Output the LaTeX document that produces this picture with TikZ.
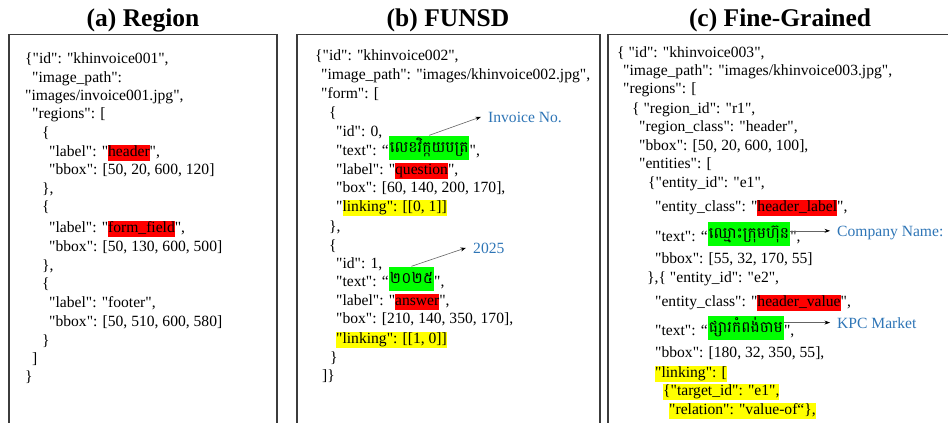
\documentclass[tikz,border=0pt]{standalone}
\usepackage{fontspec}
\setmainfont[Ligatures=TeXOff]{Liberation Serif}
\newfontfamily\khmer[Script=Khmer]{Battambang}
\usetikzlibrary{arrows.meta}

\definecolor{hlred}{RGB}{255,0,0}
\definecolor{hlgreen}{RGB}{0,255,0}
\definecolor{hlyellow}{RGB}{255,255,0}
\definecolor{noteblue}{RGB}{46,117,182}
\definecolor{framegray}{RGB}{60,60,60}
\definecolor{ptrgray}{RGB}{100,100,100}

% inline highlight behind a piece of JSON text
\newcommand\hlbox[2]{{\setlength\fboxsep{0pt}\colorbox{#1}{\rule[-4.5pt]{0pt}{16pt}#2}}}
\newcommand\hlr[1]{\hlbox{hlred}{#1}}
\newcommand\hly[1]{\hlbox{hlyellow}{#1}}
\newcommand\jsonsize{\fontsize{15.6}{18.7}\selectfont}
\newcommand\titlesize{\fontsize{25.5}{30}\selectfont}
\newcommand\khsize{\fontsize{15.5}{19}\selectfont}
% Khmer words sit a little above the JSON baseline
\newcommand\kw[1]{\raisebox{2.5pt}{#1}}

\begin{document}
\begin{tikzpicture}[x=1pt,y=-1pt,
  jl/.style={anchor=base west, inner sep=0pt, font=\jsonsize},
  ttl/.style={anchor=base, inner sep=0pt, font=\titlesize\bfseries},
  kh/.style={anchor=base west, inner xsep=0.8pt, inner ysep=0pt, fill=hlgreen,
             text height=19.5pt, text depth=4.5pt, font=\khmer\khsize},
  note/.style={anchor=base west, inner xsep=7pt, inner ysep=0pt, text depth=0pt,
               text=noteblue, font=\jsonsize},
  ptr/.style={draw=ptrgray, line width=0.6pt, -{Stealth[length=5.5pt,width=4pt,color=black]}},
  frm/.style={draw=framegray, line width=1.2pt}]

\useasboundingbox (0,0) rectangle (948,423);

% panel titles
\node[ttl] (ta) at (143,26) {(a) Region};
\node[ttl] (tb) at (448,26) {(b) FUNSD};
\node[ttl] (tc) at (780,26) {(c) Fine-Grained};

% open-bottom frames
\draw[frm] (9,430) -- (9,34.5) -- (277,34.5) -- (277,430);
\draw[frm] (297,430) -- (297,34.5) -- (600,34.5) -- (600,430);
\draw[frm] (608,430) -- (608,34.5) -- (960,34.5);

% ---------- (a) Region ----------
\node[jl] (a1)  at (25,63)  {\{"id": "khinvoice001",};
\node[jl] (a2)  at (32,82)  {"image\_path":};
\node[jl] (a3)  at (25,100) {"images/invoice001.jpg",};
\node[jl] (a4)  at (32,118) {"regions": [};
\node[jl] (a5)  at (42,137) {\{};
\node[jl] (a6)  at (49,156) {"label": "\hlr{header}",};
\node[jl] (a7)  at (49,174) {"bbox": [50, 20, 600, 120]};
\node[jl] (a8)  at (42,193) {\},};
\node[jl] (a9)  at (42,211) {\{};
\node[jl] (a10) at (49,232) {"label": "\hlr{form\_field}",};
\node[jl] (a11) at (49,251) {"bbox": [50, 130, 600, 500]};
\node[jl] (a12) at (42,270) {\},};
\node[jl] (a13) at (42,288) {\{};
\node[jl] (a14) at (49,307) {"label": "footer",};
\node[jl] (a15) at (49,326) {"bbox": [50, 510, 600, 580]};
\node[jl] (a16) at (42,345) {\}};
\node[jl] (a17) at (32,363) {]};
\node[jl] (a18) at (25,381) {\}};

% ---------- (b) FUNSD ----------
\node[jl] (b1)  at (315,60)  {\{"id": "khinvoice002",};
\node[jl] (b2)  at (321,79)  {"image\_path": "images/khinvoice002.jpg",};
\node[jl] (b3)  at (321,98)  {"form": [};
\node[jl] (b4)  at (329,117) {\{};
\node[jl] (b5)  at (336,136) {"id": 0,};
\node[jl] (b6)  at (336,155) {"text": “};
\node[kh] (gb6) at (b6.base east) {\kw{លេខវិក្កយបត្រ}};
\node[jl] (b6e) at (gb6.base east) {",};
\node[jl] (b7)  at (336,174) {"label": "\hlr{question}",};
\node[jl] (b8)  at (336,192) {"box": [60, 140, 200, 170],};
\node[jl] (b9)  at (336,211) {"\hly{linking": [[0, 1]]}};
\node[jl] (b10) at (329,231) {\},};
\node[jl] (b11) at (329,250) {\{};
\node[jl] (b12) at (336,268) {"id": 1,};
\node[jl] (b13) at (336,286) {"text": “};
\node[kh] (gb13) at (b13.base east) {\kw{២០២៥}};
\node[jl] (b13e) at (gb13.base east) {",};
\node[jl] (b14) at (336,305) {"label": "\hlr{answer}",};
\node[jl] (b15) at (336,323) {"box": [210, 140, 350, 170],};
\node[jl] (b16) at (336,343) {\hly{"linking": [[1, 0]]}};
\node[jl] (b17) at (330,362) {\}};
\node[jl] (b18) at (322,380) {]\}};

\node[note] (inv) at (481,122) {Invoice No.};
\node[note] (yr)  at (466,253) {2025};
\draw[ptr] (gb6.north) -- (inv.west);
\draw[ptr] (gb13.north) -- (yr.west);

% ---------- (c) Fine-Grained ----------
\node[jl] (c1)  at (617,57)  {\{ "id": "khinvoice003",};
\node[jl] (c2)  at (623,75)  {"image\_path": "images/khinvoice003.jpg",};
\node[jl] (c3)  at (623,93)  {"regions": [};
\node[jl] (c4)  at (632,113) {\{ "region\_id": "r1",};
\node[jl] (c5)  at (639,131) {"region\_class": "header",};
\node[jl] (c6)  at (639,150) {"bbox": [50, 20, 600, 100],};
\node[jl] (c7)  at (639,168) {"entities": [};
\node[jl] (c8)  at (648,187) {\{"entity\_id": "e1",};
\node[jl] (c9)  at (655,211) {"entity\_class": "\hlr{header\_label}",};
\node[jl] (c10) at (655,241) {"text": “};
\node[kh] (gc10) at (c10.base east) {\kw{ឈ្មោះក្រុមហ៊ុន}};
\node[jl] (c10e) at (gc10.base east) {",};
\node[jl] (c11) at (655,263) {"bbox": [55, 32, 170, 55]};
\node[jl] (c12) at (647,282) {\},\{ "entity\_id": "e2",};
\node[jl] (c13) at (655,306) {"entity\_class": "\hlr{header\_value}",};
\node[jl] (c14) at (655,335) {"text": “};
\node[kh] (gc14) at (c14.base east) {\kw{ផ្សារកំពង់ចាម}};
\node[jl] (c14e) at (gc14.base east) {",};
\node[jl] (c15) at (655,357) {"bbox": [180, 32, 350, 55],};
\node[jl] (c16) at (655,377) {\hly{"linking": [}};
\node[jl] (c17) at (663,395) {\hly{\{"target\_id": "e1",}};
\node[jl] (c18) at (669,414) {\hly{"relation": "value-of“\},}};

\node[note] (cn)  at (830,236) {Company Name:};
\node[note] (kpc) at (830,328) {KPC Market};
\draw[ptr] (gc10.east |- cn.west) -- (cn.west);
\draw[ptr] (gc14.east |- kpc.west) -- (kpc.west);

\end{tikzpicture}
\end{document}
